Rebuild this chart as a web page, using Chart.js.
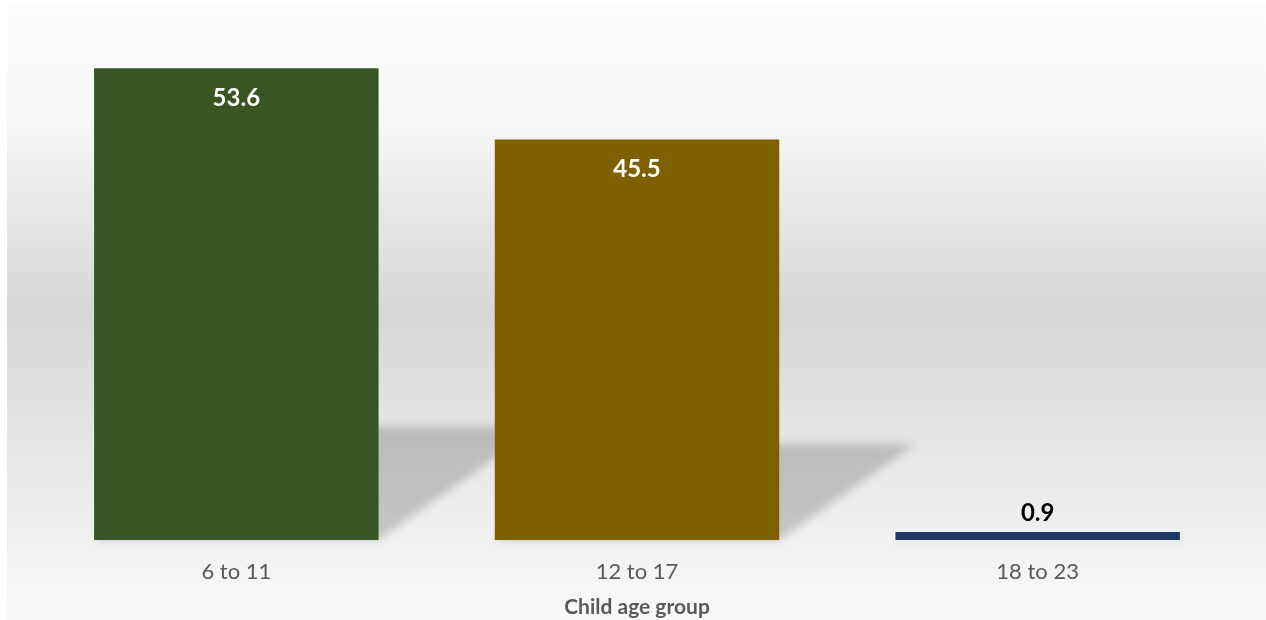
<!DOCTYPE html>
<html>
<head>
<meta charset="utf-8">
<script src="https://cdn.jsdelivr.net/npm/chart.js@4.4.1/dist/chart.umd.min.js"></script>
<style>
  html, body { margin: 0; padding: 0; background: #fff; }
  #wrap { width: 1266px; height: 620px; }
</style>
</head>
<body>
<div id="wrap"><canvas id="ageChart"></canvas></div>
<script>
var ageGroups = ["6 to 11", "12 to 17", "18 to 23"];
var shares = [53.6, 45.5, 0.9];
var barColors = ["#375623", "#7F6000", "#1F3864"];

// soft grey panel behind the plot
var panelBg = {
  id: 'panelBg',
  beforeDraw: function (chart) {
    var c = chart.ctx;
    var g = c.createLinearGradient(0, 4, 0, chart.height);
    g.addColorStop(0, '#fdfdfd');
    g.addColorStop(0.18, '#f8f8f8');
    g.addColorStop(0.5, '#d6d6d6');
    g.addColorStop(0.8, '#ececec');
    g.addColorStop(1, '#fafafa');
    c.save();
    c.fillStyle = g;
    c.fillRect(7, 4, chart.width - 7, chart.height - 4);
    c.restore();
  }
};

// slanted cast shadow to the right of each bar
var barShadow = {
  id: 'barShadow',
  beforeDatasetsDraw: function (chart) {
    var c = chart.ctx;
    var meta = chart.getDatasetMeta(0);
    c.save();
    c.filter = 'blur(4px)';
    c.fillStyle = 'rgba(0,0,0,0.18)';
    meta.data.forEach(function (bar) {
      var h = bar.base - bar.y;
      var x0 = bar.x - bar.width / 2, x1 = bar.x + bar.width / 2;
      var dx = h * 0.34, dy = h * 0.24;
      c.beginPath();
      c.moveTo(x0, bar.base);
      c.lineTo(x1, bar.base);
      c.lineTo(x1 + dx, bar.base - dy);
      c.lineTo(x0 + dx, bar.base - dy);
      c.closePath();
      c.fill();
    });
    c.restore();
  }
};

// value labels: inside the top of tall bars, above short ones
var valueLabels = {
  id: 'valueLabels',
  afterDatasetsDraw: function (chart) {
    var c = chart.ctx;
    var meta = chart.getDatasetMeta(0);
    c.save();
    c.font = 'bold 24px Lato';
    c.textAlign = 'center';
    c.textBaseline = 'middle';
    meta.data.forEach(function (bar, i) {
      var h = bar.base - bar.y;
      if (h > 40) {
        c.fillStyle = '#ffffff';
        c.fillText(shares[i].toFixed(1), bar.x, bar.y + 30);
      } else {
        c.fillStyle = '#000000';
        c.fillText(shares[i].toFixed(1), bar.x, bar.y - 19);
      }
    });
    c.restore();
  }
};

new Chart(document.getElementById('ageChart'), {
  type: 'bar',
  data: {
    labels: ageGroups,
    datasets: [{
      data: shares,
      backgroundColor: barColors,
      borderWidth: 0,
      barPercentage: 0.71,
      categoryPercentage: 1
    }]
  },
  options: {
    responsive: true,
    maintainAspectRatio: false,
    animation: false,
    layout: { padding: { left: 36, right: 28, top: 12, bottom: 0 } },
    plugins: {
      legend: { display: false },
      tooltip: { enabled: false }
    },
    scales: {
      x: {
        afterFit: function (scale) { scale.height = 80; },
        grid: { display: false, drawTicks: false },
        border: { display: false },
        ticks: { padding: 19, color: '#595959', font: { family: 'Lato', size: 22 } },
        title: {
          display: true,
          text: 'Child age group',
          color: '#595959',
          padding: { top: 9, bottom: 0 },
          font: { family: 'Lato', size: 21, weight: 'bold' }
        }
      },
      y: {
        display: false,
        min: 0,
        max: 60
      }
    }
  },
  plugins: [panelBg, barShadow, valueLabels]
});
</script>
</body>
</html>
